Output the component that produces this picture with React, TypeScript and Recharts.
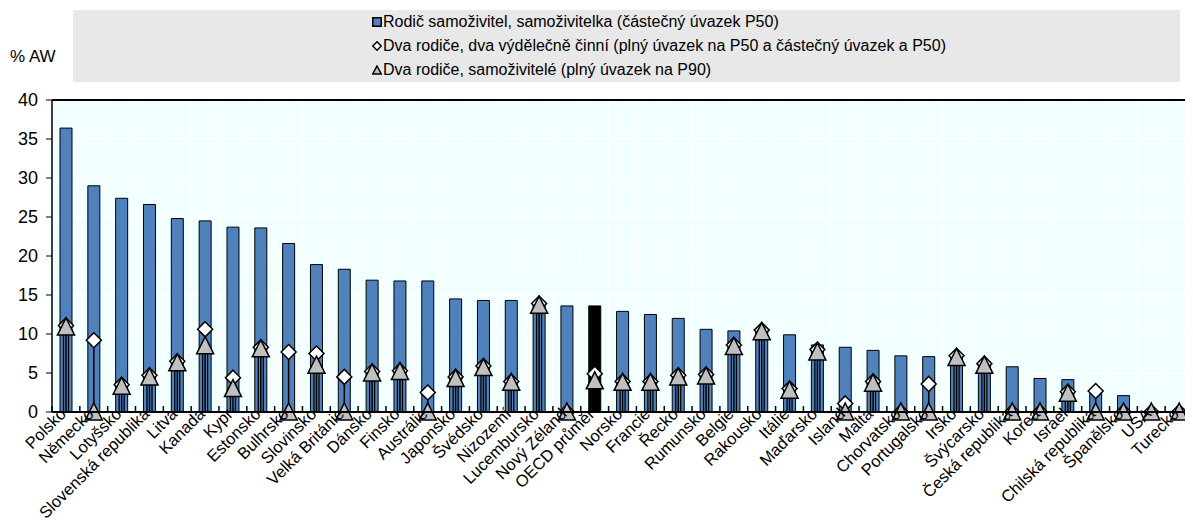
import { Bar, CartesianGrid, Cell, ComposedChart, ReferenceLine, XAxis, YAxis } from "recharts"

const categories = [
  "Polsko", "Německo", "Lotyšsko", "Slovenská republika", "Litva", "Kanada", "Kypr", "Estonsko",
  "Bulhrsko", "Slovinsko", "Velká Británie", "Dánsko", "Finsko", "Austrálie", "Japonsko", "Švédsko",
  "Nizozemí", "Lucembursko", "Nový Zéland", "OECD průměr", "Norsko", "Francie", "Řecko", "Rumunsko",
  "Belgie", "Rakousko", "Itálie", "Maďarsko", "Island", "Malta", "Chorvatsko", "Portugalsko",
  "Irsko", "Švýcarsko", "Česká republika", "Korea", "Israel", "Chilská republika", "Španělsko", "USA", "Turecko",
]

// Rodič samoživitel, samoživitelka (částečný úvazek P50)
const singleParent = [
  36.4, 29.0, 27.4, 26.6, 24.8, 24.5, 23.7, 23.6, 21.6, 18.9, 18.3, 16.9, 16.8, 16.8, 14.5, 14.3,
  14.3, 13.8, 13.6, 13.6, 12.9, 12.5, 12.0, 10.6, 10.4, 10.3, 9.9, 8.6, 8.3, 7.9, 7.2, 7.1,
  6.9, 6.1, 5.8, 4.3, 4.15, 2.4, 2.1, 0.2, 0,
]

// Dva rodiče, dva výdělečně činní
const twoEarners = [
  11.1, 9.2, 3.5, 4.7, 6.5, 10.6, 4.4, 8.3, 7.7, 7.5, 4.5, 5.2, 5.3, 2.5, 4.5, 5.9,
  3.9, 13.9, 0, 4.9, 3.9, 3.9, 4.7, 4.8, 8.6, 10.5, 3.0, 8.0, 1.1, 3.9, 0, 3.6,
  7.2, 6.2, 0, 0, 2.6, 2.7, 0, 0, 0,
]

// Dva rodiče, samoživitelé (plný úvazek na P90)
const oneEarner = [
  10.9, 0, 3.3, 4.5, 6.3, 8.5, 3.0, 8.1, 0, 6.0, 0, 5.0, 5.2, 0, 4.3, 5.7,
  3.8, 13.7, 0, 4.0, 3.8, 3.8, 4.5, 4.6, 8.4, 10.3, 2.8, 7.7, 0, 3.7, 0, 0,
  7.0, 6.0, 0, 0, 2.4, 0, 0, 0, 0,
]

const yTicks = [0, 5, 10, 15, 20, 25, 30, 35, 40]

const data = categories.map((name, i) => ({
  name,
  single: singleParent[i],
  two: twoEarners[i],
  one: oneEarner[i],
}))

const W = 1193
const H = 529
const LEFT = 52
const STEP = (W - LEFT) / categories.length
const FONT = "'Liberation Sans', Arial, sans-serif"
const BLUE = "#4F81BD"

function DiamondStem(props: any) {
  const { x, y, width, height } = props
  const cx = x + width / 2
  const s = 7.5
  return (
    <g>
      {height > 0 && <line x1={cx} x2={cx} y1={y + height} y2={y} stroke="#000" strokeWidth={1.5} />}
      <polygon
        points={`${cx},${y - s} ${cx + s},${y} ${cx},${y + s} ${cx - s},${y}`}
        fill="#fff"
        stroke="#000"
        strokeWidth={1.5}
      />
    </g>
  )
}

function TriangleStem(props: any) {
  const { x, y, width, height } = props
  const cx = x + width / 2
  return (
    <g>
      {height > 0 && (
        <rect x={cx - 2.5} y={y} width={5} height={height} fill="none" stroke="#000" strokeWidth={1.3} />
      )}
      <polygon
        points={`${cx},${y - 9} ${cx + 8.5},${y + 8} ${cx - 8.5},${y + 8}`}
        fill="#C0C0C0"
        stroke="#000"
        strokeWidth={1.5}
      />
    </g>
  )
}

function CountryTick(props: any) {
  const { x, y, payload, index } = props
  const ax = x + 1
  const ay = y + 3
  return (
    <g>
      <line x1={x - STEP / 2} x2={x - STEP / 2} y1={y} y2={y - 6} stroke="#000" strokeWidth={1.5} />
      {index === categories.length - 1 && (
        <line x1={x + STEP / 2} x2={x + STEP / 2} y1={y} y2={y - 6} stroke="#000" strokeWidth={1.5} />
      )}
      <text
        x={ax}
        y={ay}
        textAnchor="end"
        transform={`rotate(-45 ${ax} ${ay})`}
        fontSize={16.5}
        fontFamily={FONT}
        fill="#000"
      >
        {payload.value}
      </text>
    </g>
  )
}

function LegendBox() {
  const row = { display: "flex", alignItems: "center", height: 24 }
  const label = { marginLeft: 1 }
  return (
    <div
      style={{
        position: "absolute",
        left: 73,
        top: 10,
        width: 1107,
        height: 72,
        background: "#E8E8E8",
        fontFamily: FONT,
        fontSize: 16,
        color: "#000",
        boxSizing: "border-box",
        paddingLeft: 299,
      }}
    >
      <div style={row}>
        <svg width={10} height={10}>
          <rect x={0.75} y={0.75} width={8.5} height={8.5} fill={BLUE} stroke="#000" strokeWidth={1.5} />
        </svg>
        <span style={label}>Rodič samoživitel, samoživitelka (částečný úvazek P50)</span>
      </div>
      <div style={row}>
        <svg width={10} height={10}>
          <polygon points="5,0.8 9.2,5 5,9.2 0.8,5" fill="#fff" stroke="#000" strokeWidth={1.5} />
        </svg>
        <span style={label}>Dva rodiče, dva výdělečně činní (plný úvazek na P50 a částečný úvazek a P50)</span>
      </div>
      <div style={row}>
        <svg width={10} height={10}>
          <polygon points="5,1 9.3,9 0.7,9" fill="#C0C0C0" stroke="#000" strokeWidth={1.5} />
        </svg>
        <span style={label}>Dva rodiče, samoživitelé (plný úvazek na P90)</span>
      </div>
    </div>
  )
}

export default function App() {
  return (
    <div style={{ position: "relative", width: W, height: H, margin: -8, background: "#fff" }}>
      <LegendBox />
      <div style={{ position: "absolute", left: 10, top: 47, fontFamily: FONT, fontSize: 17 }}>% AW</div>
      <ComposedChart
        width={W}
        height={H}
        data={data}
        margin={{ top: 100, right: 0, left: 0, bottom: 0 }}
        barGap={0}
      >
        <CartesianGrid
          fill="#F2FFFF"
          fillOpacity={1}
          stroke="#FFFFFF"
          strokeWidth={1.5}
          verticalCoordinatesGenerator={({ offset }: any) =>
            categories.slice(1).map((_, i) => offset.left + (i + 1) * (offset.width / categories.length))
          }
        />
        <XAxis
          dataKey="name"
          interval={0}
          height={117}
          tick={<CountryTick />}
          tickLine={false}
          tickSize={0}
          tickMargin={0}
          axisLine={{ stroke: "#000", strokeWidth: 2 }}
        />
        <XAxis xAxisId="d" dataKey="name" hide />
        <XAxis xAxisId="t" dataKey="name" hide />
        <YAxis
          width={LEFT}
          domain={[0, 40]}
          ticks={yTicks}
          interval={0}
          tickSize={6}
          tickMargin={8}
          tick={{ fontSize: 18, fill: "#000", fontFamily: FONT }}
          tickLine={{ stroke: "#000" }}
          axisLine={{ stroke: "#000", strokeWidth: 1.5 }}
        />
        <ReferenceLine y={40} stroke="#000" strokeWidth={2} />
        <Bar dataKey="single" barSize={12} fill={BLUE} stroke="#000" strokeWidth={1} isAnimationActive={false}>
          {data.map((d) => (
            <Cell key={d.name} fill={d.name === "OECD průměr" ? "#000" : BLUE} />
          ))}
        </Bar>
        <Bar dataKey="two" xAxisId="d" barSize={12} shape={<DiamondStem />} isAnimationActive={false} />
        <Bar dataKey="one" xAxisId="t" barSize={12} shape={<TriangleStem />} isAnimationActive={false} />
      </ComposedChart>
    </div>
  )
}
